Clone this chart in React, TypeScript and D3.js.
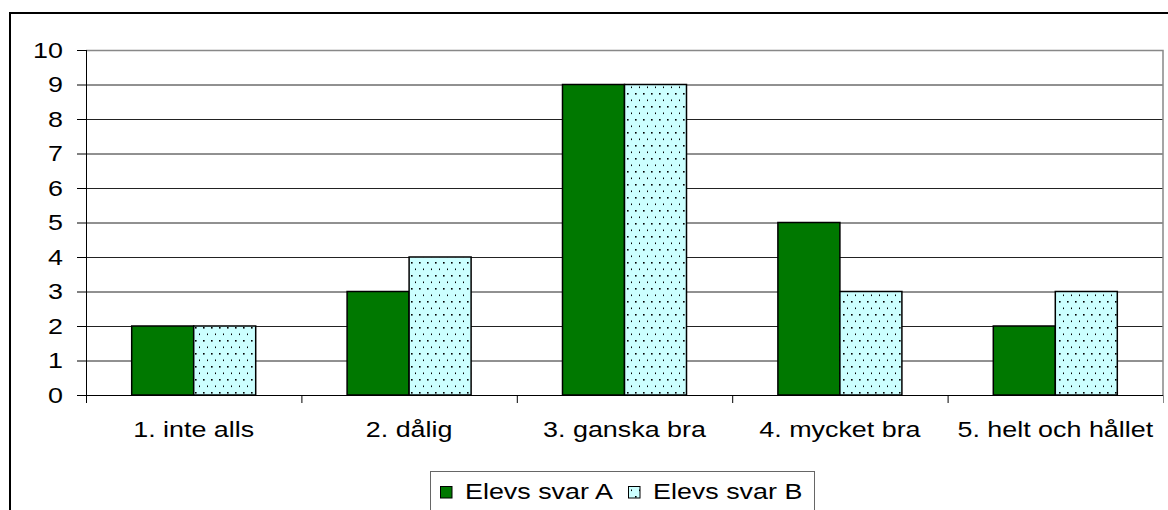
import React from 'react';
import * as d3 from 'd3';

// answer categories and the two series of answers
const categories = ['1. inte alls', '2. dålig', '3. ganska bra', '4. mycket bra', '5. helt och hållet'];
const seriesNames = ['Elevs svar A', 'Elevs svar B'];
const svarA = [2, 3, 9, 5, 2];
const svarB = [2, 4, 9, 3, 3];
const yTicks = [0, 1, 2, 3, 4, 5, 6, 7, 8, 9, 10];

const W = 1168,
	H = 510;
const plot = { left: 86, right: 1163, top: 50, bottom: 395 };
const FONT = 'Liberation Sans, Arial, sans-serif';
const FS = 21.5;
const SX = 1.25; // the original text is stretched sideways

const colors = ['#007800', '#ccffff'];

// stretched text helper
const Txt = ({ x, y, anchor, children, dy }: any) => (
	<text
		transform={`translate(${x},${y}) scale(${SX},1)`}
		textAnchor={anchor}
		dy={dy}
		fontFamily={FONT}
		fontSize={FS}
		fill="#000"
	>
		{children}
	</text>
);

const App = () => {
	const x0 = d3.scaleBand<string>().domain(categories).range([plot.left, plot.right]).padding(0);
	const x1 = d3.scaleBand<string>().domain(seriesNames).range([0, x0.bandwidth()]).paddingInner(0).paddingOuter(0.737);
	const y = d3.scaleLinear().domain([0, 10]).range([plot.bottom, plot.top]);

	const rows = categories.map((c, i) => ({ cat: c, vals: [svarA[i], svarB[i]] }));
	const boundaries = categories.map((c) => x0(c) as number).concat([plot.right]);

	return (
		<svg width={W} height={H} style={{ position: 'absolute', left: 0, top: 0, background: '#fff' }}>
			<defs>
				<pattern id="dots" width={8} height={13} patternUnits="userSpaceOnUse">
					<rect width={8} height={13} fill={colors[1]} />
					<rect x={3} y={2} width={1.6} height={1.6} fill="#000" />
					<rect x={7} y={8.5} width={1.6} height={1.6} fill="#000" />
				</pattern>
			</defs>
			<rect x={0} y={0} width={W} height={H} fill="#fff" />
			{/* outer frame, cut off on the right and bottom */}
			<rect x={10} y={13} width={W + 20} height={H + 20} fill="none" stroke="#000" strokeWidth={2} />

			{/* gridlines */}
			{yTicks.slice(1, -1).map((t) => (
				<line key={t} x1={plot.left} x2={plot.right} y1={y(t) + 0.5} y2={y(t) + 0.5} stroke="#222" strokeWidth={1} />
			))}
			{/* plot border top & right */}
			<polyline
				points={`${plot.left},${y(10) + 0.5} ${plot.right},${y(10) + 0.5} ${plot.right},${plot.bottom}`}
				fill="none"
				stroke="#888"
				strokeWidth={1.5}
			/>

			{/* bars */}
			{rows.map((r) =>
				r.vals.map((v, j) => (
					<rect
						key={r.cat + j}
						x={(x0(r.cat) as number) + (x1(seriesNames[j]) as number)}
						y={y(v)}
						width={x1.bandwidth()}
						height={y(0) - y(v)}
						fill={j === 0 ? colors[0] : 'url(#dots)'}
						stroke="#000"
						strokeWidth={1.5}
					/>
				))
			)}

			{/* y axis */}
			<line x1={plot.left + 0.5} x2={plot.left + 0.5} y1={plot.top} y2={plot.bottom + 8} stroke="#000" />
			{yTicks.map((t) => (
				<g key={t}>
					<line x1={plot.left - 9} x2={plot.left} y1={y(t) + 0.5} y2={y(t) + 0.5} stroke="#000" />
					<Txt x={63} y={y(t)} anchor="end" dy="0.36em">
						{t}
					</Txt>
				</g>
			))}

			{/* x axis */}
			<line x1={plot.left} x2={plot.right} y1={plot.bottom + 0.5} y2={plot.bottom + 0.5} stroke="#000" />
			{boundaries.map((b, i) => (
				<line key={i} x1={b + 0.5} x2={b + 0.5} y1={plot.bottom} y2={plot.bottom + 8} stroke={i === boundaries.length - 1 ? '#888' : '#000'} />
			))}
			{categories.map((c) => (
				<Txt key={c} x={(x0(c) as number) + x0.bandwidth() / 2} y={437} anchor="middle">
					{c}
				</Txt>
			))}

			{/* legend */}
			<rect x={430.5} y={471.5} width={384} height={60} fill="#fff" stroke="#666" strokeWidth={1} />
			{seriesNames.map((s, i) => {
				const lx = i === 0 ? 440 : 628;
				return (
					<g key={s}>
						<rect x={lx + 0.5} y={486.5} width={11.5} height={11.5} fill={i === 0 ? colors[0] : 'url(#dots)'} stroke="#000" />
						<Txt x={lx + 25} y={499} anchor="start">
							{s}
						</Txt>
					</g>
				);
			})}
		</svg>
	);
};

export default App;
